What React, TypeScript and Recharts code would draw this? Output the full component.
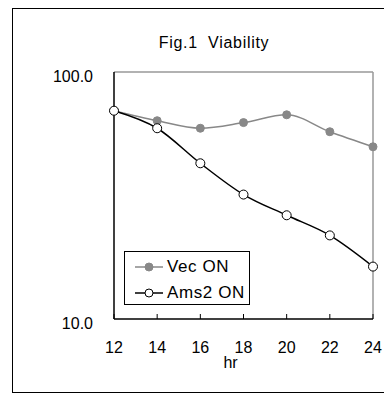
import { LineChart, Line, XAxis, YAxis, ReferenceLine } from "recharts";

const hours = [12, 14, 16, 18, 20, 22, 24];
const vecOn = [69.7, 63.5, 59.2, 62.4, 67.1, 57.3, 49.8];
const ams2On = [69.7, 59.2, 42.7, 31.9, 26.3, 21.8, 16.3];
const xTicks = [12, 14, 16, 18, 20, 22, 24];
const yTicks = [10, 100];

const data = hours.map((h, i) => ({ hr: h, vec: vecOn[i], ams2: ams2On[i] }));

const FONT = "'Liberation Sans', Arial, sans-serif";

const XTick = (props: any) => {
  const { x, payload } = props;
  return (
    <text x={x} y={339} textAnchor="middle" dominantBaseline="central" fontSize={16} fontFamily={FONT} fill="#000">
      {payload.value}
    </text>
  );
};

const YTick = (props: any) => {
  const { x, y, payload } = props;
  return (
    <text x={x} y={y + 4} textAnchor="end" dominantBaseline="central" fontSize={16} fontFamily={FONT} fill="#000">
      {Number(payload.value).toFixed(1)}
    </text>
  );
};

export default function App() {
  return (
    <div
      style={{
        position: "absolute",
        left: 8,
        top: 8,
        width: 376,
        height: 386,
        overflow: "hidden",
        fontFamily: FONT,
      }}
    >
      <div
        style={{
          position: "absolute",
          left: 4,
          top: 0,
          width: 420,
          height: 383,
          border: "1.5px solid #000",
        }}
      />
      <div
        style={{
          position: "absolute",
          left: 0,
          width: 412,
          top: 26,
          textAlign: "center",
          fontSize: 16,
          letterSpacing: 0.7,
          lineHeight: "18px",
          whiteSpace: "pre",
        }}
      >
        {"Fig.1  Viability"}
      </div>
      <LineChart
        width={376}
        height={386}
        data={data}
        margin={{ top: 64, right: 11, bottom: 25, left: 46 }}
        style={{ position: "absolute", left: 0, top: 0 }}
      >
        <XAxis
          dataKey="hr"
          type="number"
          domain={[12, 24]}
          ticks={xTicks}
          height={50}
          tickSize={-5}
          tick={<XTick />}
          stroke="#000"
          axisLine={{ stroke: "#000", strokeWidth: 1.5 }}
          tickLine={{ stroke: "#000" }}
          label={{ value: "hr", position: "insideBottom", offset: 1, dx: -13, fontSize: 16, fill: "#000" }}
        />
        <YAxis
          scale="log"
          domain={[10, 100]}
          ticks={yTicks}
          width={60}
          tickLine={false}
          tickSize={0}
          tickMargin={21}
          tick={<YTick />}
          axisLine={{ stroke: "#000", strokeWidth: 1.5 }}
          allowDataOverflow
        />
        <ReferenceLine y={100} stroke="#999" strokeWidth={1.5} />
        <ReferenceLine x={24} stroke="#999" strokeWidth={1.5} />
        <Line
          type="monotone"
          dataKey="vec"
          stroke="#888"
          strokeWidth={1.5}
          dot={{ r: 4, fill: "#888", stroke: "#888", strokeWidth: 1 }}
          isAnimationActive={false}
        />
        <Line
          type="monotone"
          dataKey="ams2"
          stroke="#000"
          strokeWidth={1.5}
          dot={{ r: 4.5, fill: "#fff", stroke: "#000", strokeWidth: 1 }}
          isAnimationActive={false}
        />
      </LineChart>
      <div
        style={{
          position: "absolute",
          left: 116,
          top: 243,
          width: 124,
          height: 52,
          border: "1px solid #000",
          background: "#fff",
          fontSize: 17,
          letterSpacing: 0.6,
        }}
      >
        {[
          { name: "Vec ON", color: "#888", fill: "#888" },
          { name: "Ams2 ON", color: "#000", fill: "#fff" },
        ].map((item, i) => (
          <div
            key={item.name}
            style={{ position: "absolute", left: 10, top: 4 + i * 26, height: 22, display: "flex", alignItems: "center" }}
          >
            <svg width={30} height={22}>
              <line x1={0} y1={11} x2={28} y2={11} stroke={item.color} strokeWidth={1.5} />
              <circle cx={14} cy={11} r={4} fill={item.fill} stroke={item.color} strokeWidth={1} />
            </svg>
            <span style={{ marginLeft: 2 }}>{item.name}</span>
          </div>
        ))}
      </div>
    </div>
  );
}
